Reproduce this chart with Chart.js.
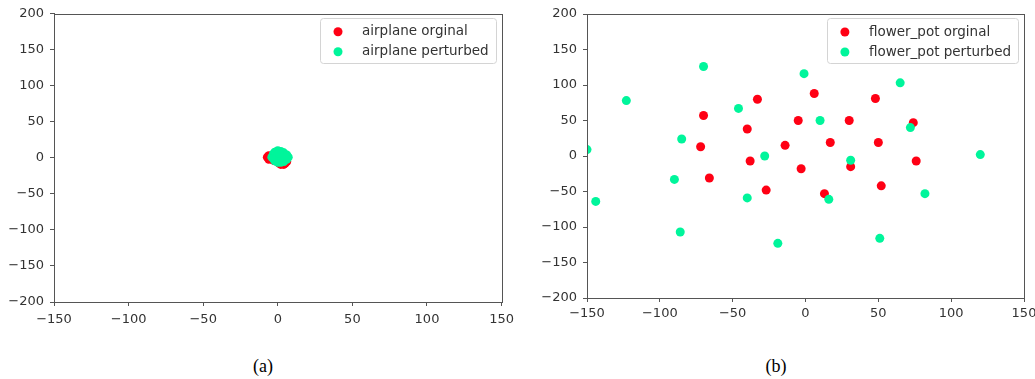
<!DOCTYPE html>
<html>
<head>
<meta charset="utf-8">
<script src="https://cdn.jsdelivr.net/npm/chart.js@4.4.1/dist/chart.umd.min.js"></script>
<style>
  html, body { margin: 0; padding: 0; background: #fff; overflow: hidden; }
  body { width: 1035px; height: 379px; position: relative; }
  .wrap { position: absolute; top: 0; height: 340px; }
  .cap { position: absolute; top: 356px; font-family: "Liberation Serif", "Times New Roman", serif; font-size: 18px; color: #000; transform: translateX(-50%); }
</style>
</head>
<body>
<div class="wrap" style="left:0;width:520px;"><canvas id="c1" width="520" height="340"></canvas></div>
<div class="wrap" style="left:530px;width:520px;"><canvas id="c2" width="520" height="340"></canvas></div>
<div class="cap" style="left:263px;">(a)</div>
<div class="cap" style="left:776px;">(b)</div>
<script>
// ---- data ----
const xTicks = [-150, -100, -50, 0, 50, 100, 150];
const yTicks = [-200, -150, -100, -50, 0, 50, 100, 150, 200];

const airplaneLabels = ["airplane orginal", "airplane perturbed"];
const airplaneOrigX = [-7, -6, -6, -4, -3, -2, -1, 0, 1, 2, 4, 5, 6, 2, 0, -2, 3, 1, 4, -3];
const airplaneOrigY = [1, -2, 3, -1, 2, -4, 1, -3, -7, -9, -9, -7, -5, 0, 3, 4, 2, -2, -3, -3];
const airplanePertX = [-4, -3, -2, 0, 2, 4, 6, 7, 6, 4, 2, 0, -2, -3, 0, 2, 3, -1, 1, 5];
const airplanePertY = [1, 5, 8, 10, 9, 7, 4, 1, -2, -5, -6, -6, -4, -1, 3, 2, -2, 0, 6, 0];

const flowerLabels = ["flower_pot orginal", "flower_pot perturbed"];
const flowerOrigX = [-33, 6, 48, -70, -5, 30, 74, -40, -72, -14, 17, 50, -38, -3, 31, 76, -66, -27, 13, 52];
const flowerOrigY = [80, 88, 81, 57, 50, 50, 47, 38, 13, 15, 19, 19, -7, -18, -15, -7, -31, -48, -53, -42];
const flowerPertX = [-70, -1, 65, -123, -46, 10, 72, -85, -150, -28, 120, 31, -90, -144, -40, 16, 82, -86, -19, 51];
const flowerPertY = [126, 116, 103, 78, 67, 50, 40, 24, 9, 0, 2, -6, -33, -64, -59, -61, -53, -107, -123, -116];

const RED = "rgb(255,0,20)";
const GREEN = "rgb(0,245,155)";

function pts(xs, ys) { return xs.map((x, i) => ({ x: x, y: ys[i] })); }
function fmt(v) { return String(v).replace('-', '\u2212'); }

const framePlugin = {
  id: 'frame',
  afterDatasetsDraw(chart) {
    const a = chart.chartArea, ctx = chart.ctx;
    ctx.save();
    ctx.strokeStyle = '#555';
    ctx.lineWidth = 1;
    ctx.strokeRect(Math.round(a.left) + 0.5, Math.round(a.top) + 0.5, Math.round(a.right - a.left), Math.round(a.bottom - a.top));
    ctx.restore();
  }
};

const legendPlugin = {
  id: 'boxLegend',
  afterDraw(chart) {
    const a = chart.chartArea, ctx = chart.ctx;
    const ds = chart.data.datasets;
    ctx.save();
    ctx.font = '13.5px "DejaVu Sans"';
    let tw = 0;
    ds.forEach(d => { tw = Math.max(tw, ctx.measureText(d.label).width); });
    const w = 42 + tw + 7, h = 45;
    const x0 = a.right - 6 - w, y0 = a.top + 4;
    ctx.fillStyle = 'rgba(255,255,255,0.85)';
    ctx.strokeStyle = '#d4d4d4';
    ctx.lineWidth = 1;
    ctx.beginPath();
    ctx.roundRect(Math.round(x0) + 0.5, Math.round(y0) + 0.5, Math.round(w), h, 3);
    ctx.fill();
    ctx.stroke();
    ds.forEach((d, i) => {
      const cy = y0 + 14 + i * 20;
      ctx.fillStyle = d.backgroundColor;
      ctx.beginPath();
      ctx.arc(x0 + 18, cy, 4.5, 0, Math.PI * 2);
      ctx.fill();
      ctx.fillStyle = '#333';
      ctx.textBaseline = 'middle';
      ctx.textAlign = 'left';
      ctx.fillText(d.label, x0 + 42, cy);
    });
    ctx.restore();
  }
};

function makeChart(id, labels, ox, oy, px, py, yAxisWidth, padding, xPad) {
  return new Chart(document.getElementById(id), {
    type: 'scatter',
    data: {
      datasets: [
        { label: labels[0], data: pts(ox, oy), backgroundColor: RED, borderWidth: 0, pointRadius: 4.5, order: 1 },
        { label: labels[1], data: pts(px, py), backgroundColor: GREEN, borderWidth: 0, pointRadius: 4.5, order: 0 }
      ]
    },
    options: {
      responsive: false,
      animation: false,
      devicePixelRatio: 1,
      layout: { padding: padding },
      plugins: { legend: { display: false }, tooltip: { enabled: false } },
      scales: {
        x: {
          type: 'linear', min: -150, max: 150,
          afterBuildTicks: s => { s.ticks = xTicks.map(v => ({ value: v })); },
          afterFit: s => { s.height = 30; },
          ticks: { color: '#333', font: { family: 'DejaVu Sans', size: 13 }, padding: xPad, maxRotation: 0, callback: v => fmt(v) },
          grid: { display: true, drawOnChartArea: false, drawTicks: true, tickLength: 4, color: '#555' },
          border: { display: true, color: '#555' }
        },
        y: {
          type: 'linear', min: -200, max: 200,
          afterBuildTicks: s => { s.ticks = yTicks.map(v => ({ value: v })); },
          afterFit: s => { s.width = yAxisWidth; },
          ticks: { color: '#333', font: { family: 'DejaVu Sans', size: 13 }, padding: 6, callback: v => fmt(v) },
          grid: { display: true, drawOnChartArea: false, drawTicks: true, tickLength: 4, color: '#555' },
          border: { display: true, color: '#555' }
        }
      }
    },
    plugins: [framePlugin, legendPlugin]
  });
}

makeChart('c1', airplaneLabels, airplaneOrigX, airplaneOrigY, airplanePertX, airplanePertY, 54, { left: 0, top: 13, right: 17, bottom: 8 }, 6);
makeChart('c2', flowerLabels, flowerOrigX, flowerOrigY, flowerPertX, flowerPertY, 57, { left: 0, top: 14, right: 26, bottom: 12 }, 4);
</script>
</body>
</html>
